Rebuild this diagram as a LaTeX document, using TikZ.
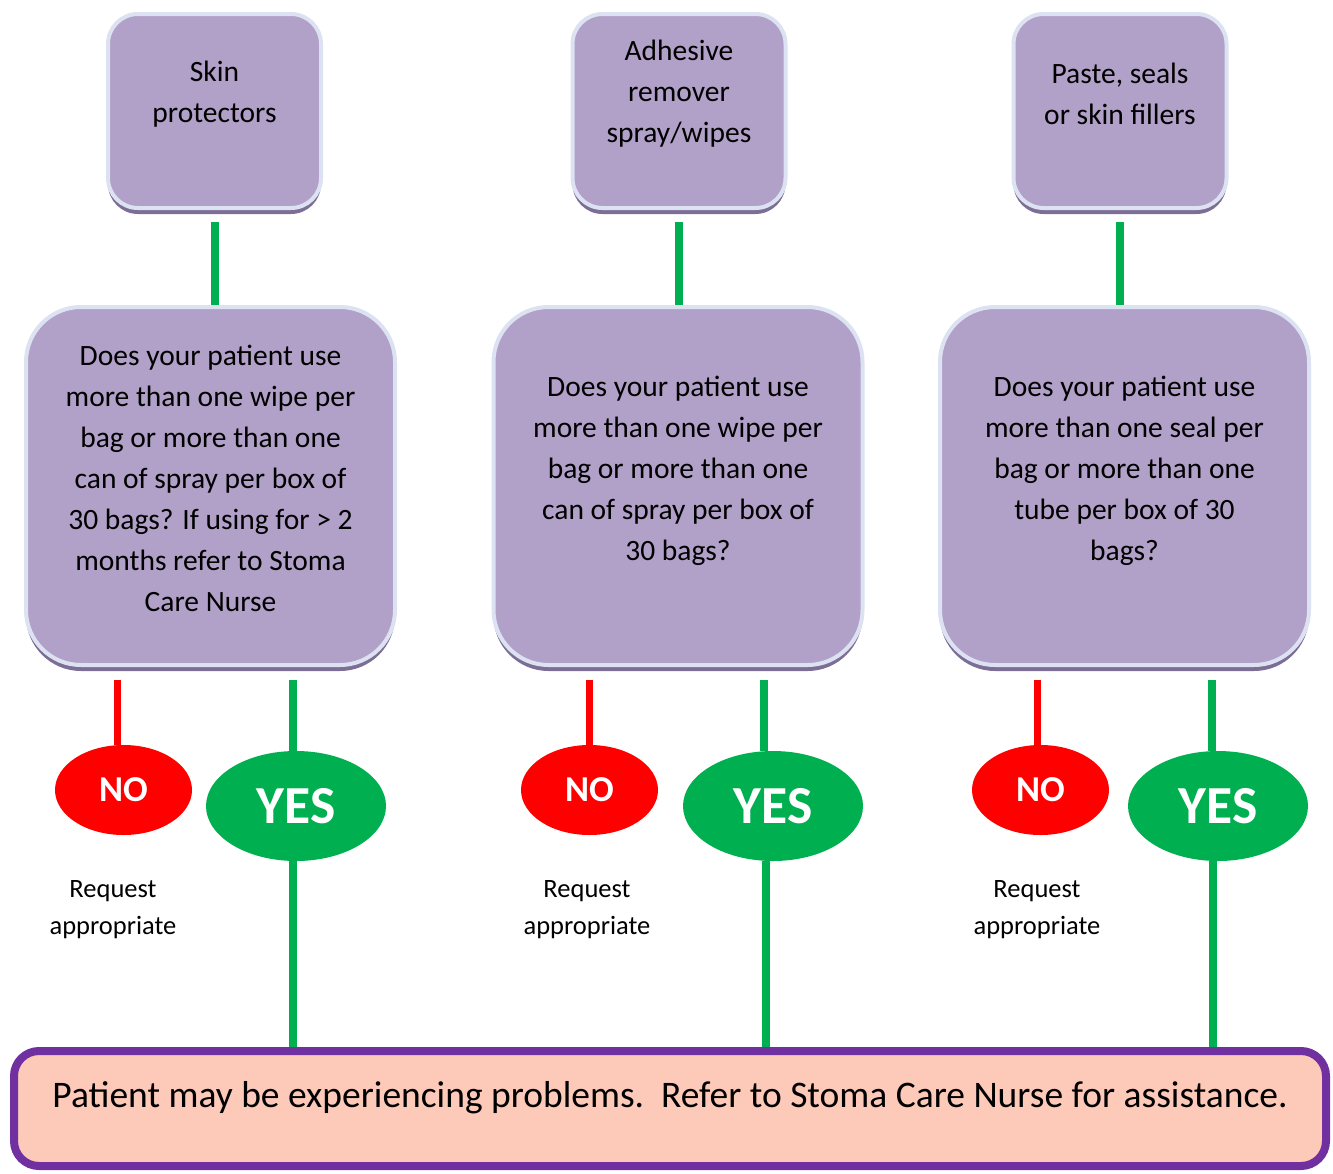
\documentclass[tikz,border=0pt]{standalone}
\usepackage{fontspec}
\setmainfont{Carlito}
\usetikzlibrary{shapes.geometric,shadows}
\definecolor{boxlilac}{HTML}{B1A0C7}
\definecolor{boxedge}{HTML}{DCE2F2}
\definecolor{boxshade}{HTML}{5C4A7C}
\definecolor{yesgreen}{HTML}{00B050}
\definecolor{nored}{HTML}{FF0000}
\definecolor{finalpurple}{HTML}{7030A0}
\definecolor{finalpeach}{HTML}{FDC9B9}
\tikzset{
  itembox/.style={draw=boxedge, line width=4pt, fill=boxlilac, rounded corners=30pt,
    minimum width=213pt, minimum height=194pt,
    drop shadow={shadow xshift=0pt, shadow yshift=-6pt, fill=boxshade, opacity=0.8}},
  askbox/.style={itembox, rounded corners=55pt, minimum width=369pt, minimum height=358pt},
  boxtext/.style={align=center, inner sep=0pt, font=\fontsize{29.5}{41}\selectfont},
  reqtext/.style={align=center, inner sep=0pt, font=\fontsize{26.5}{37}\selectfont},
  noblob/.style={ellipse, fill=nored, text=white, inner sep=0pt,
    minimum width=137pt, minimum height=90pt, font=\fontsize{36.5}{36}\selectfont\bfseries},
  yesblob/.style={ellipse, fill=yesgreen, text=white, inner sep=0pt,
    minimum width=180pt, minimum height=110pt, font=\fontsize{53.5}{52}\selectfont\bfseries},
  finalbox/.style={draw=finalpurple, line width=8pt, fill=finalpeach, rounded corners=25pt,
    minimum width=1312pt, minimum height=115pt},
  yesline/.style={draw=yesgreen, line width=8pt},
  noline/.style={draw=nored, line width=7pt}
}
\begin{document}
\begin{tikzpicture}[x=1pt,y=-1pt]
\useasboundingbox (0,0) rectangle (1333,1173);
\node (top1) [itembox] at (214.5,111) {};
\node (top2) [itembox] at (679,111) {};
\node (top3) [itembox] at (1120,111) {};
\node (top1txt) [boxtext] at (214.5,94) {Skin\\protectors};
\node (top2txt) [boxtext] at (679,94) {Adhesive\\remover\\spray/wipes};
\node (top3txt) [boxtext] at (1120,94) {Paste, seals\\or skin fillers};
\node (q1) [askbox] at (210.5,486) {};
\node (q2) [askbox] at (678,486) {};
\node (q3) [askbox] at (1124.5,486) {};
\node (q1txt) [boxtext] at (210.5,478) {Does your patient use\\more than one wipe per\\bag or more than one\\can of spray per box of\\30 bags? If using for > 2\\months refer to Stoma\\Care Nurse};
\node (q2txt) [boxtext] at (678,471) {Does your patient use\\more than one wipe per\\bag or more than one\\can of spray per box of\\30 bags?};
\node (q3txt) [boxtext] at (1124.5,471) {Does your patient use\\more than one seal per\\bag or more than one\\tube per box of 30\\bags?};
\node (no1) [noblob] at (123.5,790) {NO};
\node (yes1) [yesblob] at (296,806) {YES};
\node (no2) [noblob] at (589.5,790) {NO};
\node (yes2) [yesblob] at (773,806) {YES};
\node (no3) [noblob] at (1040.5,790) {NO};
\node (yes3) [yesblob] at (1218,806) {YES};
\node (req1) [reqtext] at (113,910) {Request\\appropriate};
\node (req2) [reqtext] at (587,910) {Request\\appropriate};
\node (req3) [reqtext] at (1037,910) {Request\\appropriate};
\node (final) [finalbox] at (670,1108.5) {};
\node (finaltxt) [inner sep=0pt, font=\fontsize{37.5}{40}\selectfont] at (670,1098) {Patient may be experiencing problems.\ \ Refer to Stoma Care Nurse for assistance.};
\draw[yesline, shorten <=12pt] (top1.south) -- (top1.south |- q1.north);
\draw[yesline, shorten <=12pt] (top2.south) -- (top2.south |- q2.north);
\draw[yesline, shorten <=12pt] (top3.south) -- (top3.south |- q3.north);
\draw[noline, shorten <=13pt] ([xshift=-6pt]no1.north |- q1.south) -- ([xshift=-6pt]no1.north);
\draw[yesline, shorten <=13pt] ([xshift=-3pt]yes1.north |- q1.south) -- ([xshift=-3pt]yes1.north);
\draw[noline, shorten <=13pt] (no2.north |- q2.south) -- (no2.north);
\draw[yesline, shorten <=13pt] ([xshift=-9pt]yes2.north |- q2.south) -- ([xshift=-9pt]yes2.north);
\draw[noline, shorten <=13pt] ([xshift=-3pt]no3.north |- q3.south) -- ([xshift=-3pt]no3.north);
\draw[yesline, shorten <=13pt] ([xshift=-6pt]yes3.north |- q3.south) -- ([xshift=-6pt]yes3.north);
\draw[yesline] ([xshift=-3pt]yes1.south) -- ([xshift=-3pt]yes1.south |- final.north);
\draw[yesline] ([xshift=-7pt]yes2.south) -- ([xshift=-7pt]yes2.south |- final.north);
\draw[yesline] ([xshift=-5pt]yes3.south) -- ([xshift=-5pt]yes3.south |- final.north);
\end{tikzpicture}
\end{document}
